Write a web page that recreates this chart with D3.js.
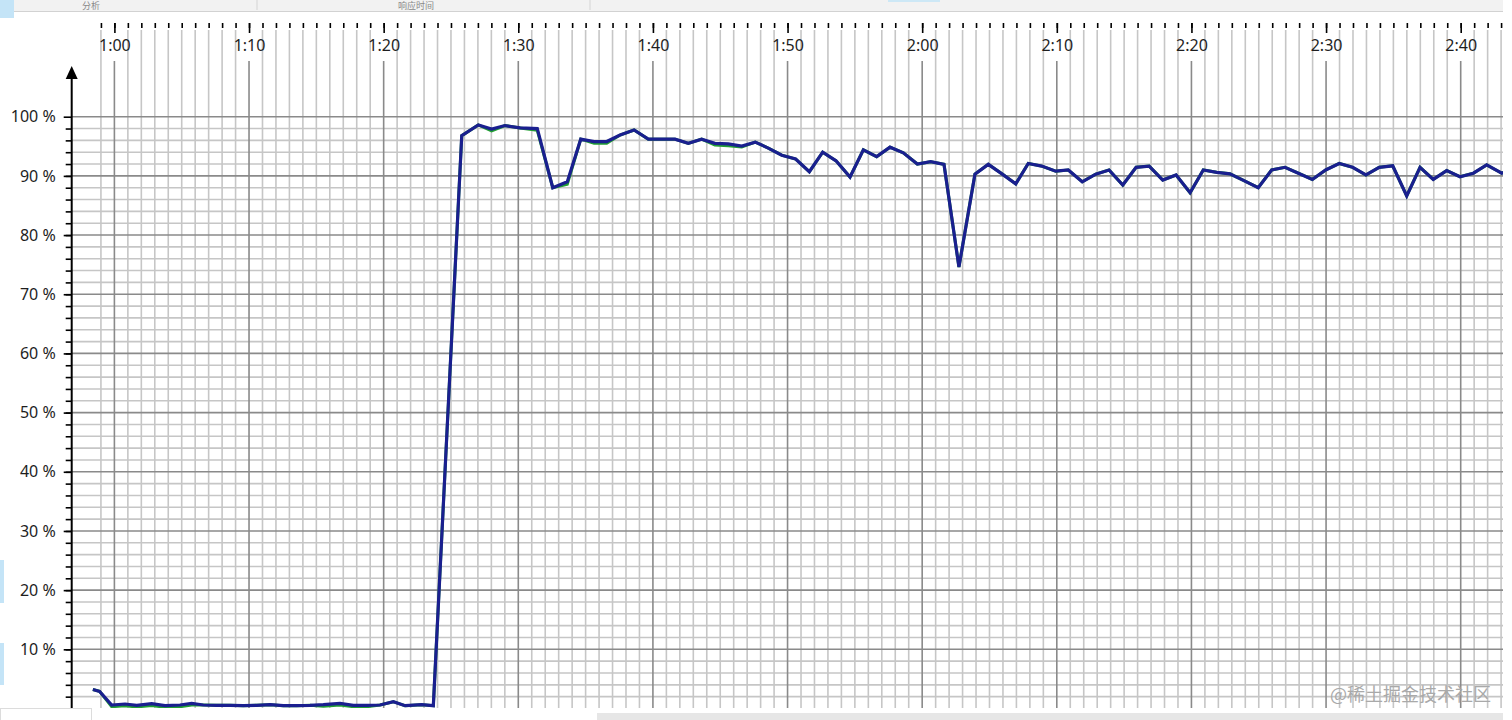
<!DOCTYPE html>
<html>
<head>
<meta charset="utf-8">
<title>CPU usage</title>
<script src="https://cdn.jsdelivr.net/npm/d3@7"></script>
<style>
    html, body { margin: 0; padding: 0; background: #fff; overflow: hidden; }
    #chart { width: 1512px; height: 720px; }
</style>
</head>
<body>
<div id="chart"></div>
<script>

// sample times in seconds (1:00 = 60) and the two series in %
const sampleTime = [
    58.4, 58.9, 59.8, 60.79, 61.66, 62.77, 63.76, 64.87, 65.74, 66.6,
    67.6, 68.59, 69.57, 70.57, 71.56, 72.55, 73.54, 74.53, 75.52, 76.76,
    77.75, 78.74, 79.73, 80.72, 81.59, 82.82, 83.69, 85.8, 87.03, 88.02,
    89.01, 90.13, 91.41, 92.56, 93.64, 94.64, 95.63, 96.57, 97.56, 98.6,
    99.66, 100.65, 101.64, 102.63, 103.62, 104.6, 105.6, 106.6, 107.6, 108.57,
    109.57, 110.6, 111.62, 112.61, 113.6, 114.64, 115.63, 116.62, 117.61, 118.6,
    119.64, 120.63, 121.62, 122.73, 123.92, 124.91, 125.95, 126.95, 127.88, 128.88,
    129.92, 130.85, 131.89, 132.89, 133.88, 134.9, 135.89, 136.86, 137.87, 138.86,
    139.9, 140.88, 141.87, 142.86, 143.9, 144.96, 145.96, 146.95, 147.94, 148.98,
    149.97, 150.98, 151.97, 152.96, 153.95, 154.95, 155.99, 156.98, 157.96, 158.96,
    159.95, 160.94, 161.93, 163.05, 164.0
];

const blueValue = [
    3.2, 2.9, 0.59, 0.76, 0.54, 0.82, 0.48, 0.59, 0.87, 0.59,
    0.54, 0.54, 0.48, 0.54, 0.65, 0.48, 0.48, 0.54, 0.65, 0.87,
    0.54, 0.54, 0.59, 1.15, 0.48, 0.65, 0.48, 96.8, 98.6, 97.9,
    98.5, 98.1, 98.0, 88.0, 89.0, 96.2, 95.8, 95.8, 96.9, 97.75,
    96.2, 96.2, 96.2, 95.5, 96.2, 95.5, 95.4, 95.05, 95.7, 94.7,
    93.5, 92.85, 90.7, 94.0, 92.55, 89.8, 94.4, 93.25, 94.85, 93.9,
    92.0, 92.4, 91.95, 74.6, 90.3, 91.95, 90.3, 88.65, 92.1, 91.65,
    90.8, 91.0, 89.0, 90.3, 91.0, 88.45, 91.45, 91.65, 89.3, 90.15,
    87.15, 91.0, 90.6, 90.35, 89.2, 88.0, 91.0, 91.45, 90.45, 89.4,
    91.0, 92.1, 91.45, 90.15, 91.45, 91.7, 86.6, 91.45, 89.4, 90.9,
    89.85, 90.45, 91.85, 90.45, 91.3
];

const greenValue = [
    3.2, 2.9, 0.3, 0.46, 0.26, 0.52, 0.2, 0.3, 0.6, 0.59,
    0.54, 0.54, 0.48, 0.54, 0.65, 0.48, 0.48, 0.54, 0.4, 0.6,
    0.3, 0.3, 0.59, 1.15, 0.48, 0.65, 0.48, 96.8, 98.6, 97.6,
    98.5, 98.1, 97.7, 88.0, 88.6, 96.2, 95.5, 95.5, 96.9, 97.75,
    96.2, 96.2, 96.2, 95.5, 96.2, 95.2, 95.1, 94.9, 95.7, 94.7,
    93.5, 92.85, 90.7, 94.0, 92.55, 89.8, 94.4, 93.25, 94.85, 93.9,
    92.0, 92.4, 91.95, 74.6, 90.3, 91.95, 90.3, 88.65, 92.1, 91.65,
    90.8, 91.0, 89.0, 90.3, 91.0, 88.45, 91.45, 91.65, 89.3, 90.15,
    87.15, 91.0, 90.6, 90.35, 89.2, 88.0, 91.0, 91.45, 90.45, 89.4,
    91.0, 92.1, 91.45, 90.15, 91.45, 91.7, 86.6, 91.45, 89.4, 90.9,
    89.85, 90.45, 91.85, 90.45, 91.3
];

// axis ticks
const majorTicksX = [60, 70, 80, 90, 100, 110, 120, 130, 140, 150, 160];
const minorTicksX = d3.range(59, 164);
const majorTicksY = [10, 20, 30, 40, 50, 60, 70, 80, 90, 100];
const minorTicksY = d3.range(2, 100, 2);

const watermark = "@稀土掘金技术社区";
const headerLabels = ["分析", "响应时间"];

const labelFont = "'Noto Sans', 'DejaVu Sans', sans-serif";


class CpuChart {
    constructor(_parentElement) {
        this.parentElement = _parentElement;
        this.initVis();
    }

    initVis() {
        let vis = this;

        vis.width = 1512;
        vis.height = 720;
        vis.axisX = 71.7;      // y axis position
        vis.rightEdge = 1503;  // screenshot cut on the right
        vis.bottomEdge = 708;  // and on the bottom

        vis.svg = d3.select("#" + vis.parentElement).append("svg")
            .attr("width", vis.width)
            .attr("height", vis.height);

        vis.svg.append("defs").append("clipPath")
            .attr("id", "clip")
            .append("rect")
            .attr("x", vis.axisX)
            .attr("y", 0)
            .attr("width", vis.rightEdge - vis.axisX)
            .attr("height", vis.bottomEdge);

        // scales: seconds -> px, percent -> px
        vis.x = d3.scaleLinear()
            .domain([60, 160])
            .range([114.4, 1460.7]);

        vis.y = d3.scaleLinear()
            .domain([0, 100])
            .range([708.5, 116.7]);

        vis.drawGrid();
        vis.drawAxes();
        vis.drawLines();
        vis.drawFrame();
    }

    drawGrid() {
        let vis = this;
        let grid = vis.svg.append("g").attr("clip-path", "url(#clip)");

        // light grid
        grid.selectAll(".vminor")
            .data(minorTicksX.filter(d => majorTicksX.indexOf(d) < 0))
            .enter().append("line")
            .attr("x1", d => vis.x(d)).attr("x2", d => vis.x(d))
            .attr("y1", 30).attr("y2", vis.bottomEdge)
            .attr("stroke", "#c6c6c6")
            .attr("stroke-width", 1.6);

        grid.selectAll(".hminor")
            .data(minorTicksY.filter(d => d % 10 !== 0))
            .enter().append("line")
            .attr("x1", vis.axisX).attr("x2", vis.rightEdge)
            .attr("y1", d => vis.y(d)).attr("y2", d => vis.y(d))
            .attr("stroke", "#c6c6c6")
            .attr("stroke-width", 1.6);

        // dark grid
        grid.selectAll(".hmajor")
            .data(majorTicksY)
            .enter().append("line")
            .attr("x1", vis.axisX).attr("x2", vis.rightEdge)
            .attr("y1", d => vis.y(d)).attr("y2", d => vis.y(d))
            .attr("stroke", "#8a8a8a")
            .attr("stroke-width", 1.6);

        grid.selectAll(".vmajor")
            .data(majorTicksX)
            .enter().append("line")
            .attr("x1", d => vis.x(d)).attr("x2", d => vis.x(d))
            .attr("y1", 61).attr("y2", vis.bottomEdge)
            .attr("stroke", "#8a8a8a")
            .attr("stroke-width", 1.6);
    }

    drawAxes() {
        let vis = this;
        let fmtTime = d => Math.floor(d / 60) + ":" + d3.format("02")(d % 60);

        // top time ruler
        vis.svg.append("g")
            .attr("transform", "translate(0,23)")
            .style("color", "#000")
            .call(d3.axisBottom(vis.x).tickValues(minorTicksX).tickSize(5).tickFormat(""))
            .call(g => g.select(".domain").remove())
            .call(g => g.selectAll("line").attr("stroke-width", 1.6));

        vis.svg.append("g")
            .attr("transform", "translate(0,23)")
            .style("color", "#000")
            .call(d3.axisBottom(vis.x).tickValues(majorTicksX).tickSize(10).tickPadding(7).tickFormat(fmtTime))
            .attr("font-family", labelFont)
            .attr("font-size", 16)
            .call(g => g.select(".domain").remove())
            .call(g => g.selectAll("line").attr("stroke-width", 1.6))
            .call(g => g.selectAll("text").attr("fill", "#1e1e1e"));

        // percent axis
        vis.svg.append("g")
            .attr("transform", "translate(" + vis.axisX + ",0)")
            .style("color", "#000")
            .call(d3.axisLeft(vis.y).tickValues(minorTicksY).tickSize(6).tickFormat(""))
            .call(g => g.select(".domain").remove())
            .call(g => g.selectAll("line").attr("stroke-width", 1.6));

        vis.svg.append("g")
            .attr("transform", "translate(" + vis.axisX + ",0)")
            .style("color", "#000")
            .call(d3.axisLeft(vis.y).tickValues(majorTicksY).tickSize(8).tickPadding(8).tickFormat(d => d + " %"))
            .attr("font-family", labelFont)
            .attr("font-size", 16)
            .call(g => g.select(".domain").remove())
            .call(g => g.selectAll("line").attr("stroke-width", 1.6))
            .call(g => g.selectAll("text").attr("fill", "#1e1e1e"));

        // axis line with arrow
        vis.svg.append("line")
            .attr("x1", vis.axisX).attr("x2", vis.axisX)
            .attr("y1", 78).attr("y2", vis.bottomEdge)
            .attr("stroke", "#000")
            .attr("stroke-width", 2);

        vis.svg.append("path")
            .attr("d", d3.line()([[vis.axisX, 66], [vis.axisX - 6, 79], [vis.axisX + 6, 79]]) + "Z")
            .attr("fill", "#000");
    }

    drawLines() {
        let vis = this;

        let line = d3.line()
            .x(d => vis.x(d.t))
            .y(d => vis.y(d.v));

        let green = sampleTime.map((t, i) => ({t: t, v: greenValue[i]}));
        let blue = sampleTime.map((t, i) => ({t: t, v: blueValue[i]}));

        let g = vis.svg.append("g").attr("clip-path", "url(#clip)");

        g.append("path")
            .datum(green)
            .attr("d", line)
            .attr("fill", "none")
            .attr("stroke", "#22a033")
            .attr("stroke-width", 3);

        g.append("path")
            .datum(blue)
            .attr("d", line)
            .attr("fill", "none")
            .attr("stroke", "#1a1f8f")
            .attr("stroke-width", 3.2);
    }

    drawFrame() {
        let vis = this;

        // window header strip at the top
        vis.svg.append("rect")
            .attr("x", 0).attr("y", 0)
            .attr("width", vis.rightEdge).attr("height", 11)
            .attr("fill", "#f2f2f2");
        vis.svg.append("line")
            .attr("x1", 0).attr("x2", vis.rightEdge)
            .attr("y1", 11.5).attr("y2", 11.5)
            .attr("stroke", "#d2d2d2");
        [257, 590].forEach(function (px) {
            vis.svg.append("line")
                .attr("x1", px).attr("x2", px)
                .attr("y1", 0).attr("y2", 10)
                .attr("stroke", "#d4d4d4");
        });
        vis.svg.selectAll(".hdr")
            .data(headerLabels)
            .enter().append("text")
            .attr("x", (d, i) => i === 0 ? 82 : 398)
            .attr("y", 9)
            .attr("font-family", "'Noto Sans CJK SC', sans-serif")
            .attr("font-size", 9)
            .attr("fill", "#8a8a8a")
            .text(d => d);
        vis.svg.append("rect")
            .attr("x", 888).attr("y", 0).attr("width", 52).attr("height", 2)
            .attr("fill", "#cde8f6");

        // bits of the desktop behind the window
        [[0, 0, 14, 18], [0, 560, 4, 43], [0, 643, 4, 42]].forEach(function (r) {
            vis.svg.append("rect")
                .attr("x", r[0]).attr("y", r[1]).attr("width", r[2]).attr("height", r[3])
                .attr("fill", "#c4e4f7");
        });

        // bottom: tab box and scroll bar
        vis.svg.append("rect")
            .attr("x", 0.5).attr("y", 708.5).attr("width", 91).attr("height", 14)
            .attr("fill", "#fff").attr("stroke", "#dcdcdc");
        vis.svg.append("rect")
            .attr("x", 597).attr("y", 713).attr("width", vis.rightEdge - 597).attr("height", 7)
            .attr("fill", "#e6e6e6");

        // watermark
        vis.svg.append("text")
            .attr("x", 1491).attr("y", 701)
            .attr("text-anchor", "end")
            .attr("font-family", "'Noto Sans CJK SC', sans-serif")
            .attr("font-size", 18)
            .attr("fill", "#a9a9a9")
            .text(watermark);
    }
}

new CpuChart("chart");
</script>
</body>
</html>
